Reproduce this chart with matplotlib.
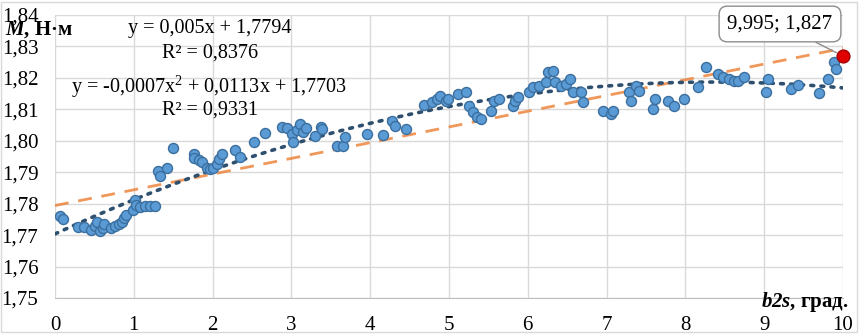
import matplotlib
matplotlib.use("Agg")
import matplotlib.pyplot as plt
from matplotlib.patches import Rectangle
import numpy as np

# ---- data ----
b2s = [0.06, 0.10, 0.29, 0.37, 0.46, 0.51, 0.53, 0.57, 0.61, 0.62,
       0.71, 0.76, 0.81, 0.85, 0.88, 0.90, 0.99, 1.02, 1.03, 1.08,
       1.14, 1.21, 1.27, 1.31, 1.33, 1.42, 1.50, 1.77, 1.77, 1.83,
       1.87, 1.93, 1.97, 2.01, 2.06, 2.08, 2.12, 2.29, 2.35, 2.52,
       2.66, 2.88, 2.95, 3.01, 3.02, 3.07, 3.11, 3.15, 3.18, 3.30,
       3.37, 3.39, 3.58, 3.65, 3.68, 3.96, 4.16, 4.28, 4.32, 4.46,
       4.68, 4.79, 4.85, 4.89, 4.96, 4.99, 5.12, 5.21, 5.25, 5.30,
       5.36, 5.40, 5.53, 5.57, 5.63, 5.81, 5.84, 5.87, 6.01, 6.07,
       6.14, 6.23, 6.26, 6.32, 6.35, 6.42, 6.48, 6.54, 6.57, 6.67,
       6.70, 6.96, 7.05, 7.08, 7.28, 7.31, 7.37, 7.41, 7.59, 7.62,
       7.78, 7.85, 7.98, 8.16, 8.26, 8.42, 8.48, 8.55, 8.62, 8.67,
       8.74, 9.02, 9.05, 9.34, 9.43, 9.69, 9.81, 9.89, 9.91]
torque = [1.7762, 1.7752, 1.7727, 1.7727, 1.7717, 1.7730, 1.7743, 1.7714, 1.7724, 1.7736,
          1.7724, 1.7730, 1.7736, 1.7743, 1.7756, 1.7765, 1.7781, 1.7813, 1.7797, 1.7788,
          1.7791, 1.7791, 1.7791, 1.7903, 1.7887, 1.7915, 1.7976, 1.7957, 1.7944, 1.7938,
          1.7931, 1.7915, 1.7909, 1.7915, 1.7925, 1.7941, 1.7957, 1.7970, 1.7950, 1.7995,
          1.8024, 1.8043, 1.8040, 1.8021, 1.7995, 1.8034, 1.8053, 1.8027, 1.8040, 1.8014,
          1.8043, 1.8037, 1.7982, 1.7982, 1.8011, 1.8021, 1.8018, 1.8062, 1.8046, 1.8037,
          1.8113, 1.8123, 1.8133, 1.8142, 1.8126, 1.8133, 1.8149, 1.8155, 1.8110, 1.8091,
          1.8075, 1.8069, 1.8094, 1.8126, 1.8133, 1.8110, 1.8126, 1.8139, 1.8155, 1.8171,
          1.8174, 1.8187, 1.8219, 1.8222, 1.8187, 1.8174, 1.8181, 1.8197, 1.8155, 1.8155,
          1.8123, 1.8094, 1.8085, 1.8094, 1.8155, 1.8126, 1.8174, 1.8158, 1.8101, 1.8133,
          1.8126, 1.8110, 1.8133, 1.8171, 1.8235, 1.8212, 1.8203, 1.8197, 1.8190, 1.8190,
          1.8203, 1.8155, 1.8197, 1.8165, 1.8177, 1.8152, 1.8197, 1.8251, 1.8228]
last_x = [9.995]
last_y = [1.827]
lin_coef = [0.005, 1.7794]
eq_lin = "y = 0,005x + 1,7794"
r2_lin = "R² = 0,8376"
eq_poly = "y = -0,0007x$^2$ + 0,0113x + 1,7703"
r2_poly = "R² = 0,9331"
callout = "9,995; 1,827"
x_ticks = list(range(0, 11))
y_ticks = [1.75, 1.76, 1.77, 1.78, 1.79, 1.80, 1.81, 1.82, 1.83, 1.84]

plt.rcParams['font.family'] = ['Liberation Serif', 'DejaVu Serif']
plt.rcParams['mathtext.fontset'] = 'custom'
plt.rcParams['mathtext.rm'] = 'Liberation Serif'
plt.rcParams['mathtext.it'] = 'Liberation Serif:italic'
plt.rcParams['mathtext.bf'] = 'Liberation Serif:bold'
plt.rcParams['mathtext.bfit'] = 'Liberation Serif:italic:bold'

W, H = 865, 334
fig = plt.figure(figsize=(W / 100, H / 100), dpi=100)
ax = fig.add_axes([55 / W, 1 - 298 / H, (843 - 55) / W, (298 - 15) / H])

# chart border
fig.patches.append(Rectangle((0.5 / W, 2 / H), 856 / W, 330 / H, transform=fig.transFigure,
                             fill=False, edgecolor='#d9d9d9', linewidth=1.0))

ax.set_xlim(0, 10)
ax.set_ylim(1.75, 1.84)
ax.set_xticks(x_ticks)
ax.set_yticks(y_ticks)
ax.set_xticklabels([str(t) for t in x_ticks])
ax.set_yticklabels([f"{t:.2f}".replace('.', ',') for t in y_ticks])
ax.grid(True, color='#d9d9d9', linewidth=1.0)
ax.set_axisbelow(True)
for s in ['top', 'right', 'left']:
    ax.spines[s].set_visible(False)
ax.spines['bottom'].set_color('#bfbfbf')
ax.tick_params(axis='both', length=0, labelsize=15, colors='black')
ax.tick_params(axis='x', pad=13)
ax.tick_params(axis='y', pad=12)

allx = np.array(b2s + last_x)
ally = np.array(torque + last_y)
xx = np.linspace(0, 10, 200)

# trendlines
ax.plot(xx, lin_coef[0] * xx + lin_coef[1], color='#ED7D31', lw=2.0,
        linestyle=(0, (5, 3.5)), alpha=0.8, zorder=2)
pc = np.polyfit(allx, ally, 2)
ax.plot(xx, np.polyval(pc, xx), color='#2F4F6F', lw=2.6,
        linestyle=(0, (0.8, 2.0)), dash_capstyle='round', zorder=2)

ax.scatter(b2s, torque, s=52, facecolor='#5B9BD5', edgecolor='#3A6E9E',
           linewidth=1.0, zorder=3)
ax.scatter(last_x, last_y, s=85, facecolor='#E00000', edgecolor='#A00000',
           linewidth=1.0, zorder=4, clip_on=False)

# callout
ax.annotate(callout, xy=(last_x[0], last_y[0]), xytext=(780 / W, 1 - 24 / H),
            textcoords='figure fraction', ha='center', va='center', fontsize=15,
            bbox=dict(boxstyle='round,pad=0.4,rounding_size=0.4', fc='white', ec='#8c8c8c', lw=1.0),
            arrowprops=dict(arrowstyle='-', color='#8c8c8c', lw=1.0, shrinkA=0, shrinkB=5),
            zorder=5)

# equations
fs_eq = 14.5
fig.text(210 / W, 1 - 29 / H, eq_lin, ha='center', va='center', fontsize=fs_eq)
fig.text(210 / W, 1 - 53 / H, r2_lin, ha='center', va='center', fontsize=fs_eq)
fig.text(209 / W, 1 - 87 / H, eq_poly, ha='center', va='center', fontsize=fs_eq)
fig.text(210 / W, 1 - 110 / H, r2_poly, ha='center', va='center', fontsize=fs_eq)

# axis titles
fig.text(5 / W, 1 - 30 / H, r"$\bfit{M}$" + ", Н·м", ha='left', va='center', fontsize=15,
         fontweight='bold')
fig.text(849 / W, 1 - 302 / H, r"$\bfit{b2s}$" + ", град.", ha='right', va='center', fontsize=15,
         fontweight='bold')

fig.savefig('out.png', dpi=100)
